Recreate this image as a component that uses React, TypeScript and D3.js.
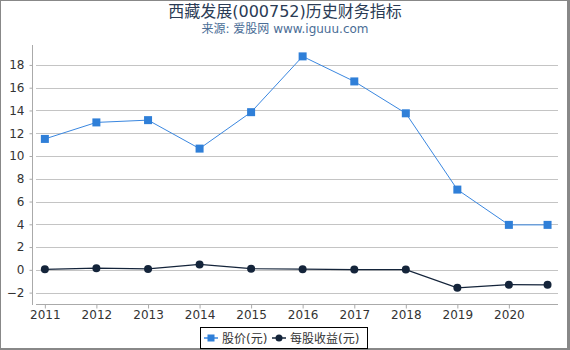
import React, { useEffect, useRef } from "react";
import * as d3 from "d3";

// data
const dates = [
  "2011-01-01", "2012-01-01", "2013-01-01", "2014-01-01", "2015-01-01",
  "2016-01-01", "2017-01-01", "2018-01-01", "2019-01-01", "2020-01-01", "2020-10-01",
];
const price = [11.5, 12.95, 13.15, 10.65, 13.85, 18.75, 16.55, 13.75, 7.05, 3.95, 3.95];
const eps = [0.05, 0.15, 0.08, 0.48, 0.1, 0.06, 0.02, 0.02, -1.58, -1.3, -1.32];
const yTicks = [-2, 0, 2, 4, 6, 8, 10, 12, 14, 16, 18];
const xTickYears = [2011, 2012, 2013, 2014, 2015, 2016, 2017, 2018, 2019, 2020];

const FONT = "'DejaVu Sans', 'Noto Sans CJK SC', sans-serif";

function App() {
  const ref = useRef<SVGSVGElement>(null);

  useEffect(() => {
    const svg = d3.select(ref.current);
    svg.selectAll("*").remove();

    const W = 570, H = 350;
    const left = 33, right = 558, top = 45, bottom = 304;

    const parse = d3.timeParse("%Y-%m-%d");
    const xs = dates.map((d) => parse(d) as Date);

    const x = d3.scaleTime()
      .domain([new Date(2010, 9, 9), new Date(2020, 11, 14)])
      .range([left, right]);
    const y = d3.scaleLinear().domain([-3, 19.75]).range([bottom, top]);

    // frame
    svg.append("rect").attr("x", 0).attr("y", 0).attr("width", W).attr("height", H).attr("fill", "#fff");
    svg.append("rect").attr("x", 0.5).attr("y", 0.5).attr("width", W - 2.5).attr("height", H - 2)
      .attr("fill", "none").attr("stroke", "#888").attr("stroke-width", 1);
    svg.append("line").attr("x1", 568.5).attr("x2", 568.5).attr("y1", 0).attr("y2", H)
      .attr("stroke", "#888").attr("stroke-width", 3);
    svg.append("line").attr("x1", 0).attr("x2", W).attr("y1", 349).attr("y2", 349)
      .attr("stroke", "#888").attr("stroke-width", 2);

    // title
    svg.append("text").attr("x", 285).attr("y", 17).attr("text-anchor", "middle")
      .attr("font-family", FONT).attr("font-size", 16).attr("fill", "#2a3b55")
      .text("西藏发展(000752)历史财务指标");
    svg.append("text").attr("x", 285).attr("y", 33).attr("text-anchor", "middle")
      .attr("font-family", FONT).attr("font-size", 12).attr("fill", "#4a6d96")
      .text("来源: 爱股网 www.iguuu.com");

    // grid
    svg.append("g").selectAll("line").data(yTicks).enter().append("line")
      .attr("x1", 36).attr("x2", right)
      .attr("y1", (d) => Math.round(y(d)) + 0.5).attr("y2", (d) => Math.round(y(d)) + 0.5)
      .attr("stroke", "#c4c4c4").attr("stroke-width", 1);

    // y axis
    const yAxis = svg.append("g").attr("transform", `translate(${left - 0.5},0)`)
      .call(d3.axisLeft(y).tickValues(yTicks).tickSize(3).tickPadding(5));
    yAxis.select(".domain").attr("d", `M0,${top}V${bottom + 1}`).attr("stroke", "#aaa");
    yAxis.selectAll(".tick line").attr("stroke", "#aaa");
    yAxis.selectAll(".tick text").attr("font-family", FONT).attr("font-size", 12).attr("fill", "#333");

    // x axis
    const xAxis = svg.append("g").attr("transform", `translate(0,${bottom + 0.5})`)
      .call(d3.axisBottom(x)
        .tickValues(xTickYears.map((yr) => new Date(yr, 0, 1)))
        .tickFormat((d) => d3.timeFormat("%Y")(d as Date))
        .tickSize(4).tickPadding(2));
    xAxis.select(".domain").attr("d", `M36,0H${right}`).attr("stroke", "#aaa");
    xAxis.selectAll(".tick line").attr("stroke", "#aaa");
    xAxis.selectAll(".tick text").attr("font-family", FONT).attr("font-size", 12).attr("fill", "#333");

    const priceColor = "#3a87e0";
    const epsColor = "#14243a";

    const line = d3.line<number>().x((_, i) => x(xs[i])).y((d) => y(d));

    // eps
    svg.append("path").attr("d", line(eps)).attr("fill", "none")
      .attr("stroke", epsColor).attr("stroke-width", 1.2);
    svg.append("g").selectAll("circle").data(eps).enter().append("circle")
      .attr("cx", (_, i) => x(xs[i])).attr("cy", (d) => y(d)).attr("r", 4)
      .attr("fill", epsColor);

    // price
    svg.append("path").attr("d", line(price)).attr("fill", "none")
      .attr("stroke", priceColor).attr("stroke-width", 1);
    svg.append("g").selectAll("rect").data(price).enter().append("rect")
      .attr("x", (_, i) => x(xs[i]) - 4).attr("y", (d) => y(d) - 4)
      .attr("width", 8).attr("height", 8).attr("fill", "#2f7fd8");

    // legend
    const lg = svg.append("g");
    lg.append("rect").attr("x", 200.5).attr("y", 327.5).attr("width", 167).attr("height", 21)
      .attr("fill", "#fff").attr("stroke", "#000").attr("stroke-width", 1);
    lg.append("line").attr("x1", 204).attr("x2", 218).attr("y1", 338).attr("y2", 338)
      .attr("stroke", priceColor).attr("stroke-width", 1.5);
    lg.append("rect").attr("x", 207.5).attr("y", 334.5).attr("width", 7).attr("height", 7).attr("fill", "#2f7fd8");
    lg.append("text").attr("x", 222).attr("y", 342.5).attr("font-family", FONT).attr("font-size", 12)
      .attr("fill", "#333").text("股价(元)");
    lg.append("line").attr("x1", 272).attr("x2", 286).attr("y1", 338).attr("y2", 338)
      .attr("stroke", epsColor).attr("stroke-width", 1.5);
    lg.append("circle").attr("cx", 279).attr("cy", 338).attr("r", 3.5).attr("fill", epsColor);
    lg.append("text").attr("x", 290).attr("y", 342.5).attr("font-family", FONT).attr("font-size", 12)
      .attr("fill", "#333").text("每股收益(元)");
  }, []);

  return (
    <svg ref={ref} width={570} height={350}
      style={{ position: "absolute", left: 0, top: 0, display: "block" }} />
  );
}

export default App;
